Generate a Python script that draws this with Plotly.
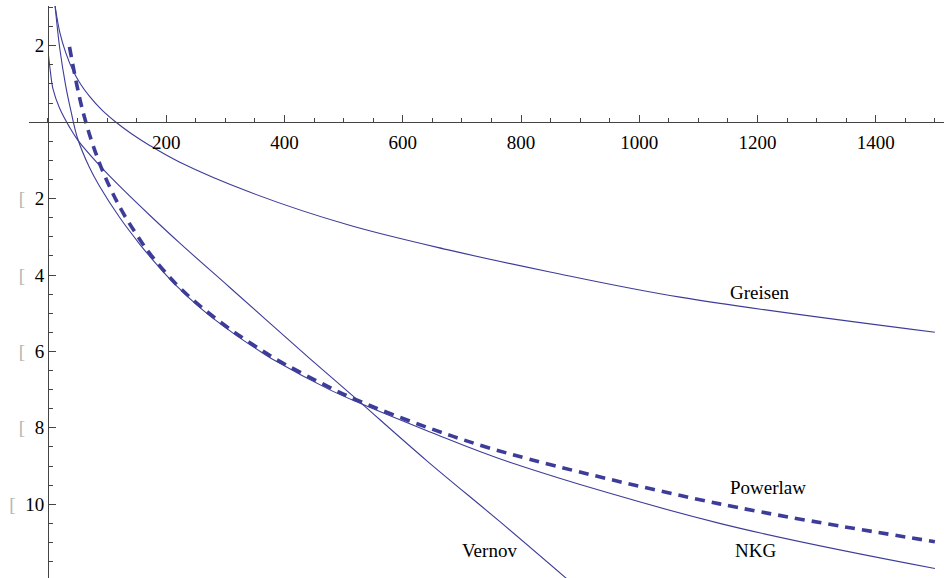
import plotly.graph_objects as go

# Lateral profiles (log scale values vs. distance)
greisen_x = [12, 20, 30, 42, 55, 70, 91, 114, 140, 172, 223, 341, 510, 679, 849, 1069, 1500]
greisen_y = [3.04, 2.35, 1.82, 1.36, 1.00, 0.68, 0.32, 0.01, -0.29, -0.61, -1.05, -1.83, -2.70, -3.35, -3.92,
             -4.58, -5.50]

nkg_x = [12, 20, 30, 39, 50, 70, 87, 121, 155, 172, 217, 262, 313, 363, 386, 476, 522, 645, 781, 1136, 1500]
nkg_y = [3.04, 1.92, 0.95, 0.28, -0.42, -1.18, -1.67, -2.49, -3.19, -3.51, -4.28, -4.92, -5.52, -6.04, -6.26,
         -7.00, -7.32, -8.10, -8.90, -10.50, -11.68]

vernov_x = [0.85, 4.2, 8.1, 19.5, 36.4, 50.4, 87.1, 129.4, 171.7, 222.5, 307, 442.4, 521.9, 639.8, 763.9, 876.7]
vernov_y = [1.75, 1.31, 0.89, 0.37, -0.13, -0.47, -1.13, -1.80, -2.43, -3.16, -4.32, -6.18, -7.25, -8.85, -10.45,
            -11.94]

powerlaw_x = [36.4, 58.9, 87.1, 121.0, 154.8, 171.7, 216.9, 261.9, 312.6, 363.4, 386.1, 476.2, 521.9, 645.4, 780.8,
              1136, 1500]
powerlaw_y = [1.97, 0.29, -1.07, -2.21, -3.06, -3.43, -4.24, -4.87, -5.47, -5.99, -6.21, -6.94, -7.27, -8.01, -8.68,
              -9.99, -10.98]

x_ticks = [200, 400, 600, 800, 1000, 1200, 1400]
y_ticks = [-10, -8, -6, -4, -2, 2]

labels = [("Greisen", 1204, -4.45), ("Powerlaw", 1217, -9.55), ("NKG", 1197, -11.20), ("Vernov", 747, -11.20)]

LINE = "rgb(61,61,153)"
AXIS = "#444444"
FONT = "Liberation Serif"

x_range = [-32.1, 1515.4]
y_range = [-11.93, 3.04]

fig = go.Figure()
for xs, ys in [(greisen_x, greisen_y), (nkg_x, nkg_y), (vernov_x, vernov_y)]:
    fig.add_trace(go.Scatter(x=xs, y=ys, mode="lines",
                             line=dict(color=LINE, width=1.1, shape="spline", smoothing=1.0),
                             hoverinfo="skip"))
fig.add_trace(go.Scatter(x=powerlaw_x, y=powerlaw_y, mode="lines",
                         line=dict(color=LINE, width=3.6, dash="10px,7px", shape="spline", smoothing=1.0),
                         hoverinfo="skip"))

for text, lx, ly in labels:
    fig.add_annotation(x=lx, y=ly, xref="x", yref="y", text=text, showarrow=False,
                       font=dict(family=FONT, size=19, color="black"))


def neg_label(v):
    if v < 0:
        return "<span style='color:#b4b4b4'>[</span>\u2002" + str(abs(v))
    return str(v)


fig.update_layout(
    width=944, height=578,
    margin=dict(l=29, r=0, t=6, b=0),
    plot_bgcolor="white", paper_bgcolor="white",
    showlegend=False,
    xaxis=dict(
        range=x_range, showgrid=False, zeroline=False,
        showline=True, linecolor=AXIS, linewidth=1,
        anchor="free", position=(0 - y_range[0]) / (y_range[1] - y_range[0]),
        side="bottom",
        ticks="inside", ticklen=7, tickwidth=1, tickcolor=AXIS,
        tickmode="array", tickvals=x_ticks, ticktext=[str(v) for v in x_ticks],
        tickfont=dict(family=FONT, size=19, color="black"),
        ticklabelstandoff=3,
        minor=dict(ticks="inside", ticklen=4, tickwidth=1, tickcolor=AXIS,
                   tickmode="linear", tick0=0, dtick=50, showgrid=False),
    ),
    yaxis=dict(
        range=y_range, showgrid=False, zeroline=False,
        showline=True, linecolor=AXIS, linewidth=1,
        anchor="free", position=(0 - x_range[0]) / (x_range[1] - x_range[0]),
        side="left",
        ticks="inside", ticklen=7, tickwidth=1, tickcolor=AXIS,
        tickmode="array", tickvals=y_ticks, ticktext=[neg_label(v) for v in y_ticks],
        tickfont=dict(family=FONT, size=19, color="black"),
        minor=dict(ticks="inside", ticklen=4, tickwidth=1, tickcolor=AXIS,
                   tickmode="linear", tick0=0, dtick=0.5, showgrid=False),
    ),
)

fig.write_html("out.html")
